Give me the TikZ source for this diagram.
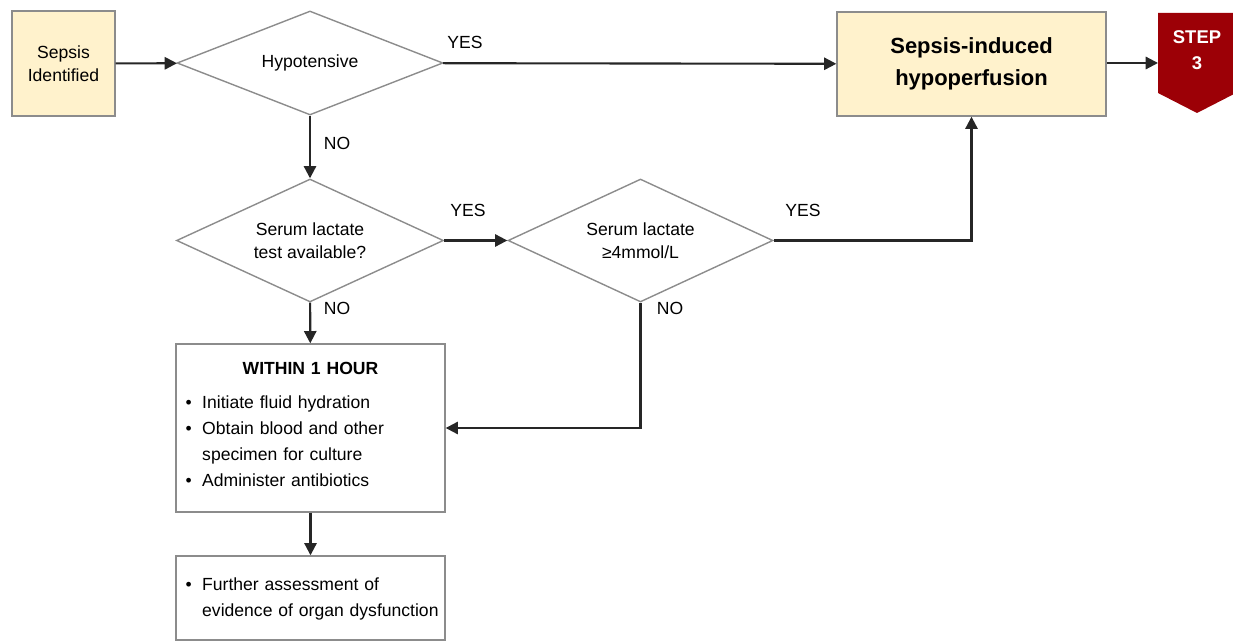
\documentclass[tikz,border=0pt]{standalone}
\usepackage{fontspec}
\setmainfont{Liberation Sans}
\usetikzlibrary{shapes.geometric,arrows.meta}
\definecolor{boxyellow}{HTML}{FFF2CC}
\definecolor{boxgray}{HTML}{8C8C8C}
\definecolor{stepred}{HTML}{9C0006}
\definecolor{linegray}{HTML}{262626}

\begin{document}
\begin{tikzpicture}[x=0.02cm,y=-0.02cm,
  font=\fontsize{10}{13}\selectfont,
  startbox/.style={draw=boxgray,fill=boxyellow,line width=0.8pt,align=center,inner sep=0pt},
  decision/.style={diamond,draw=boxgray,line width=0.8pt,align=center,inner sep=0pt},
  actionbox/.style={draw=boxgray,line width=0.8pt,text width=5cm,inner xsep=0.19cm,inner ysep=0pt,
    font=\fontsize{10}{14.8}\selectfont},
  conn/.style={draw=linegray,line width=1.2pt,-{Triangle[length=7pt,width=7pt]}},
  lbl/.style={inner sep=0pt}]
\useasboundingbox (0,0) rectangle (1233,641);
%top row
\node[startbox,minimum width=2.06cm,minimum height=2.1cm] (sepsis) at (63.5,63.5) {Sepsis\\Identified};
\node[decision,aspect=2.56,minimum width=5.32cm,minimum height=2.08cm] (hypot) at (310,63) {Hypotensive};
\node[startbox,minimum width=5.38cm,minimum height=2.08cm,font=\bfseries\fontsize{12.5}{18}\selectfont]
  (hypo) at (971.5,64) {Sepsis-induced\\hypoperfusion};
% step 3
\fill[stepred] (1158,13) -- (1236,13) -- (1236,93) -- (1197,113) -- (1158,93) -- cycle;
\node[lbl,text=white,align=center,font=\bfseries\fontsize{10.5}{14.8}\selectfont] (step) at (1197,50) {STEP\\3};
\coordinate (stepin) at (1158,63);
%lactate
\node[decision,aspect=2.17,minimum width=5.34cm,minimum height=2.46cm] (lactest) at (310,240.5) {Serum lactate\\test available?};
\node[decision,aspect=2.17,minimum width=5.3cm,minimum height=2.46cm] (lachi) at (640.5,240.5) {Serum lactate\\≥4mmol/L};
%actions
\node[actionbox,minimum height=3.36cm] (within) at (310.5,428) {%
  \centerline{\bfseries WITHIN 1 HOUR}\par\vspace{4.5pt}
  \noindent\begin{tabular}[t]{@{}l@{\hspace{6pt}}l@{}}
  \textbullet & Initiate fluid hydration\\
  \textbullet & Obtain blood and other\\
   & specimen for culture\\
  \textbullet & Administer antibiotics
  \end{tabular}};
\node[actionbox,minimum height=1.68cm] (further) at (310.5,598) {%
  \noindent\begin{tabular}[t]{@{}l@{\hspace{6pt}}l@{}}
  \textbullet & Further assessment of\\
   & evidence of organ dysfunction
  \end{tabular}};
%connectors
\draw[conn] (sepsis) -- (hypot);
\draw[conn] (hypot) -- (hypo);
\draw[conn] (hypo.east |- stepin) -- (stepin);
\draw[conn] (hypot) -- (lactest);
\draw[conn] (lactest) -- (lachi);
\draw[conn] (lachi.east) -| (hypo.south);
\draw[conn] (lactest) -- (within);
\draw[conn] (lachi.south) |- (within.east);
\draw[conn] (within) -- (further);
%labels
\node[lbl] (yes1) at (465,42) {YES};
\node[lbl] (no1) at (337,143) {NO};
\node[lbl] (yes2) at (468,210) {YES};
\node[lbl] (yes3) at (803,210) {YES};
\node[lbl] (no2) at (337,308) {NO};
\node[lbl] (no3) at (670,308) {NO};
\end{tikzpicture}
\end{document}
